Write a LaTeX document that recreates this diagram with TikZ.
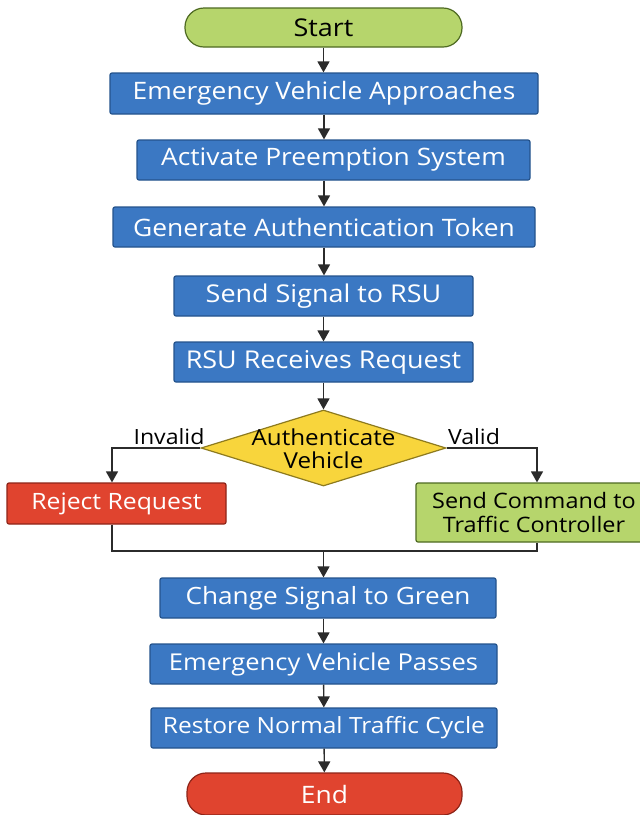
\documentclass[tikz,border=0pt]{standalone}
\usepackage{fontspec}
\setmainfont{Open Sans}[FakeStretch=1.1]
\usetikzlibrary{shapes.geometric,arrows.meta}
\definecolor{boxblue}{HTML}{3B78C3}
\definecolor{boxblueb}{HTML}{24538C}
\definecolor{startg}{HTML}{B6D56C}
\definecolor{startgb}{HTML}{4E6A22}
\definecolor{endr}{HTML}{E0442F}
\definecolor{endrb}{HTML}{8E2418}
\definecolor{decy}{HTML}{F8D53C}
\definecolor{decyb}{HTML}{8D7A1E}
\definecolor{linec}{HTML}{2B2B2B}
\newcommand{\fsz}[1]{\fontsize{#1}{#1}\selectfont}
\tikzset{
  procbox/.style={draw=boxblueb, line width=1.2pt, fill=boxblue, rounded corners=2pt,
    text=white, inner sep=0pt, anchor=center},
  termbox/.style={draw=#1, line width=1.2pt, rounded corners=19pt, inner sep=0pt},
  decbox/.style={diamond, draw=decyb, line width=1.2pt, fill=decy, inner sep=0pt,
    minimum width=245pt, minimum height=76pt},
  conn/.style={draw=linec, line width=1.4pt, -{Triangle[width=12pt,length=11pt]}},
  plainline/.style={draw=linec, line width=1.4pt},
  lbl/.style={font=\fsz{21}, text=black, inner sep=0pt}
}
\begin{document}
\begin{tikzpicture}[x=1pt,y=-1pt]
\useasboundingbox (0,0) rectangle (640,815);
\fill[white] (0,0) rectangle (640,815);
\node[termbox=startgb, fill=startg, font=\fsz{24.5}, minimum width=277pt, minimum height=39pt] (start) at (323.5,27.5) {Start};
\node[procbox, font=\fsz{24}, minimum width=428pt, minimum height=41pt] (n1) at (324,93.5) {Emergency Vehicle Approaches};
\node[procbox, font=\fsz{24}, minimum width=393pt, minimum height=40pt] (n2) at (333.5,160) {Activate Preemption System};
\node[procbox, font=\fsz{24}, minimum width=422pt, minimum height=40pt] (n3) at (324,227) {Generate Authentication Token};
\node[procbox, font=\fsz{24.5}, minimum width=299pt, minimum height=40pt] (n4) at (323.5,296) {Send Signal to RSU};
\node[procbox, font=\fsz{24.5}, minimum width=299pt, minimum height=40pt] (n5) at (323.5,362) {RSU Receives Request};
\node[decbox] (auth) at (323.5,448) {};
\node[font=\fontsize{22}{23}\selectfont, align=center, inner sep=0pt] (authtxt) at (323.5,449) {Authenticate\\Vehicle};
\node[procbox, fill=endr, draw=endrb, font=\fsz{22.5}, minimum width=219pt, minimum height=41pt] (rej) at (116.5,503.5) {Reject Request};
\node[procbox, fill=startg, draw=startgb, line width=1.2pt, minimum width=242pt, minimum height=59pt] (cmd) at (537,512.5) {};
\node[text=black, align=center, inner sep=0pt, font=\fontsize{21.3}{24}\selectfont] (cmdtxt) at (534,512.5) {Send Command to\\Traffic Controller};
\node[procbox, font=\fsz{23.8}, minimum width=336pt, minimum height=40pt] (n6) at (328,598) {Change Signal to Green};
\node[procbox, font=\fsz{23.2}, minimum width=347pt, minimum height=40pt] (n7) at (323.5,664) {Emergency Vehicle Passes};
\node[procbox, font=\fsz{22.3}, minimum width=346pt, minimum height=40pt] (n8) at (324,728) {Restore Normal Traffic Cycle};
\node[termbox=endrb, fill=endr, text=white, font=\fsz{24}, minimum width=275pt, minimum height=42pt] (endn) at (324.5,794) {End};

\coordinate (ml) at (112,551);
\coordinate (mr) at (537,551);
\coordinate (mc) at (323.5,551);

\draw[conn] (start) -- (start |- n1.north);
\draw[conn] (n1.south) -- (n1.south |- n2.north);
\draw[conn] (n1.south |- n2.south) -- (n1.south |- n3.north);
\draw[conn] (n3.south) -- (n3.south |- n4.north);
\draw[conn] (n4) -- (n5);
\draw[conn] (n5) -- (auth);
\draw[conn] (auth.west) -| (ml |- rej.north);
\draw[conn] (auth.east) -| (cmd.north);
\node[lbl] (linv) at (169,437) {Invalid};
\node[lbl] (lval) at (474,437) {Valid};
\draw[plainline] (ml |- rej.south) -- (ml) -- (mr) -- (cmd.south);
\draw[conn] (mc) -- (mc |- n6.north);
\draw[conn] (mc |- n6.south) -- (n7.north);
\draw[conn] (n7) -- (n8);
\draw[conn] (n8) -- (endn);
\end{tikzpicture}
\end{document}
